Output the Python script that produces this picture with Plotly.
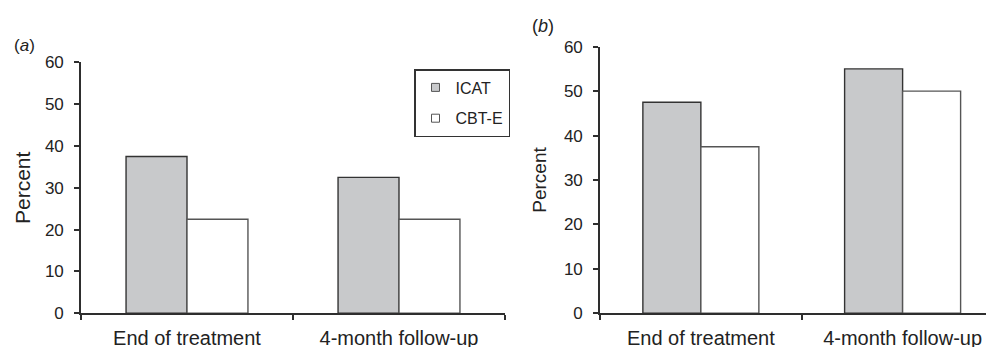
import plotly.graph_objects as go

categories = ["End of treatment", "4-month follow-up"]
series_names = ["ICAT", "CBT-E"]
a_icat = [37.5, 32.5]
a_cbte = [22.5, 22.5]
b_icat = [47.5, 55.0]
b_cbte = [37.5, 50.0]
y_ticks = [0, 10, 20, 30, 40, 50, 60]

# the page body adds an 8px margin, so the figure is 8px smaller on each side
OFF = 8
W, H = 994 - OFF, 347 - OFF
FONT = "Liberation Sans, Arial, sans-serif"
GRAY = "#c8c9cb"
AX = "#2e2e2e"
TXT = "#222222"

fig = go.Figure()

def px_x(v):
    return (v - OFF) / W

def px_y(v):
    return (347 - v) / H

for vals, name, fill, edge, xa, ya in [
    (a_icat, "ICAT", GRAY, "#333333", "x", "y"),
    (a_cbte, "CBT-E", "white", "#555555", "x", "y"),
    (b_icat, "ICAT", GRAY, "#333333", "x2", "y2"),
    (b_cbte, "CBT-E", "white", "#555555", "x2", "y2"),
]:
    fig.add_trace(go.Bar(
        x=categories, y=vals, name=name, xaxis=xa, yaxis=ya,
        marker=dict(color=fill, line=dict(color=edge, width=1.4)),
        showlegend=False, hoverinfo="x+y+name",
    ))

# legend entries (small square symbols)
for i, (name, fill) in enumerate(zip(series_names, [GRAY, "white"])):
    fig.add_trace(go.Scatter(
        x=[None], y=[None], mode="markers", name=name, xaxis="x", yaxis="y",
        legendgroup="g%d" % i,
        marker=dict(symbol="square", size=8, color=fill, line=dict(color="#555555", width=1)),
    ))

xaxis_common = dict(
    type="category", showline=True, linecolor=AX, linewidth=1.6,
    ticks="outside", tickson="boundaries", ticklen=5, tickcolor=AX, tickwidth=1.5,
    showgrid=False, zeroline=False, fixedrange=True, automargin=False,
    tickfont=dict(family=FONT, size=20, color=TXT),
    ticklabelstandoff=6,
)
yaxis_common = dict(
    range=[0, 60], tickvals=y_ticks, showline=True, linecolor=AX, linewidth=1.6,
    ticks="outside", ticklen=5, tickcolor=AX, tickwidth=1.5,
    showgrid=False, zeroline=False, fixedrange=True, automargin=False,
    tickfont=dict(family=FONT, size=17, color=TXT),
    ticklabelstandoff=7,
)

fig.update_layout(
    template="none",
    width=W, height=H,
    margin=dict(l=0, r=0, t=0, b=0, autoexpand=False),
    paper_bgcolor="white", plot_bgcolor="white",
    barmode="group", bargap=0.425, bargroupgap=0,
    xaxis=dict(xaxis_common, domain=[px_x(81), px_x(505)], range=[-0.5, 1.5], anchor="y"),
    yaxis=dict(yaxis_common, domain=[px_y(313.3), px_y(62.3)], anchor="x",
               title=dict(text="Percent", font=dict(family=FONT, size=21, color=TXT), standoff=9)),
    xaxis2=dict(xaxis_common, domain=[px_x(600), 1.0], range=[-0.5, 1.453], anchor="y2"),
    yaxis2=dict(yaxis_common, domain=[px_y(313.3), px_y(46.7)], anchor="x2",
                title=dict(text="Percent", font=dict(family=FONT, size=19, color=TXT), standoff=12)),
    legend=dict(
        x=px_x(414), y=px_y(69), xanchor="left", yanchor="top",
        bordercolor="#333333", borderwidth=1.5, bgcolor="white",
        font=dict(family=FONT, size=16, color=TXT),
        tracegroupgap=7, itemwidth=30,
    ),
    showlegend=True,
    annotations=[
        dict(text="(<i>a</i>)", x=px_x(12), y=px_y(34), xref="paper", yref="paper",
             xanchor="left", yanchor="top", showarrow=False,
             font=dict(family=FONT, size=17, color=TXT)),
        dict(text="(<i>b</i>)", x=px_x(530), y=px_y(14), xref="paper", yref="paper",
             xanchor="left", yanchor="top", showarrow=False,
             font=dict(family=FONT, size=18, color=TXT)),
    ],
)

fig.write_html("out.html")
